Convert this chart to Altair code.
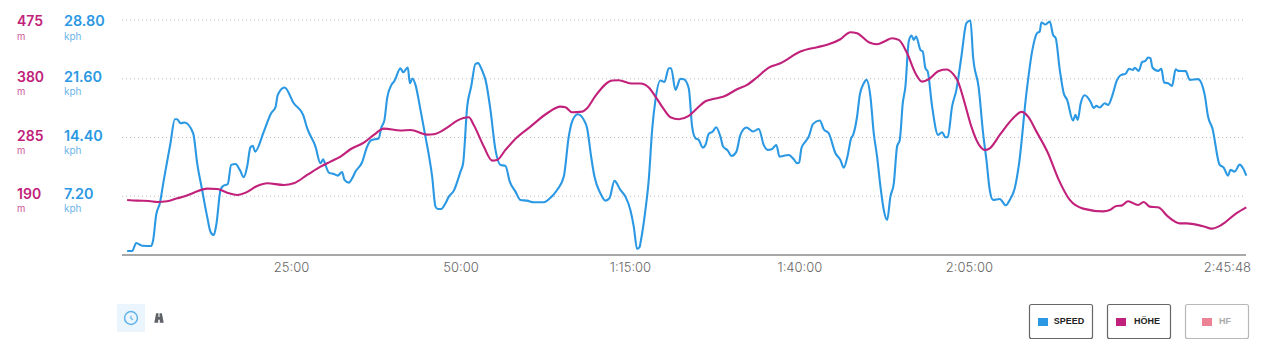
import altair as alt
import pandas as pd

speed_t = [0.76,1.50,2.09,2.97,4.30,4.60,5.04,5.58,6.17,7.15,7.79,8.14,8.63,9.22,10.50,11.09,11.82,12.56,13.05,13.54,13.94,14.53,14.92,15.61,16.10,16.74,17.38,17.97,18.46,18.95,19.30,19.64,20.92,22.00,22.64,22.98,23.97,25.34,26.72,27.31,28.54,29.28,
29.67,30.01,30.51,31.24,31.83,32.47,32.82,33.46,33.95,34.44,35.42,36.16,36.75,37.88,38.22,38.72,39.11,39.75,40.19,41.08,41.47,42.16,42.46,42.85,43.29,44.03,44.76,45.26,45.75,46.24,46.59,47.08,47.72,48.21,48.95,49.93,50.32,50.92,51.51,52.14,52.53,52.98,53.37,53.62,54.35,55.09,55.83,56.56,57.20,58.04,58.77,59.76,60.74,62.22,62.96,64.18,65.17,65.90,66.39,67.23,68.12,68.61,69.20,69.69,70.57,71.31,71.90,72.64,73.52,74.26,74.99,75.49,75.98,76.37,
76.47,77.21,77.70,78.20,78.69,79.42,80.02,80.65,81.00,81.64,82.37,82.87,83.60,84.10,84.59,85.08,85.67,86.06,86.55,87.14,87.64,88.27,88.67,89.36,89.90,90.63,91.22,92.11,93.10,93.93,94.66,95.25,95.90,96.53,96.98,97.52,98.35,99.09,99.58,99.88,100.22,100.81,101.30,101.94,102.93,103.51,104.25,105.24,105.97,106.47,107.06,107.55,107.85,108.43,108.83,109.42,109.81,110.40,110.89,111.38,111.88,112.37,112.86,113.35,113.85,114.33,114.73,115.17,115.56,116.05,116.45,116.79,117.14,117.77,118.12,118.51,118.85,119.50,120.38,120.97,121.46,121.80,
122.44,123.08,123.82,124.56,125.15,125.54,126.38,127.02,127.51,128.00,128.49,129.48,130.36,130.95,131.69,132.33,133.41,134.29,134.98,135.37,135.62,136.21,136.85,137.34,137.73,138.33,138.91,139.41,140.29,140.63,140.98,141.42,142.01,142.85,143.34,143.73,144.22,144.96,145.45,146.19,146.68,147.42,148.01,148.55,149.14,149.39,149.98,150.47,150.96,151.35,151.70,152.00,152.83,153.32,153.71,154.30,154.89,155.43,155.78,156.91,157.50,158.73,159.71,160.20,160.84,161.92,162.51,163.15,163.50,164.13,164.87,165.36,165.85]
speed_v = [0.49,0.49,1.47,1.14,1.10,1.84,4.91,6.34,9.20,13.70,16.64,16.64,16.15,16.23,14.92,11.24,7.97,4.70,2.86,2.45,3.88,7.97,8.46,8.71,11.04,11.16,10.43,9.53,10.83,13.21,13.37,12.67,15.13,17.38,18.11,19.62,20.52,18.60,17.17,15.54,13.29,11.24,
11.73,11.04,10.10,9.93,9.73,10.18,9.20,8.87,9.40,10.22,11.37,13.29,14.06,14.31,15.54,16.56,19.22,20.85,21.34,22.89,22.40,22.98,21.05,21.63,20.85,17.78,14.51,12.26,9.61,5.93,5.64,5.64,6.34,7.15,7.89,10.22,11.24,18.19,20.65,23.43,23.51,22.89,22.08,21.46,17.78,12.88,11.04,10.92,8.99,7.77,6.75,6.66,6.46,6.46,6.83,7.97,9.61,14.51,16.35,17.25,16.56,15.54,12.06,9.61,7.56,6.66,6.95,9.08,7.97,7.15,5.52,3.48,0.74,1.02,
1.43,5.52,9.20,15.33,19.01,21.38,21.22,22.89,22.89,20.24,21.59,21.55,20.44,15.74,14.31,14.10,13.16,13.49,14.84,15.13,15.66,14.51,13.29,12.80,12.14,12.67,14.72,15.62,15.13,15.45,13.49,12.88,13.00,13.49,12.06,12.14,12.26,11.73,11.24,11.32,13.08,13.90,14.51,16.07,16.48,15.41,14.92,12.47,11.65,10.71,12.26,14.31,14.72,16.97,19.62,21.05,21.46,19.42,14.92,12.06,8.38,5.52,4.29,7.15,8.79,13.29,14.10,18.60,20.65,26.17,26.90,26.37,26.78,25.14,24.94,22.89,22.49,18.19,14.72,15.05,14.43,14.43,
18.19,20.24,24.33,28.41,28.74,24.33,20.44,14.92,11.65,7.97,6.75,6.87,6.09,6.75,8.18,11.24,19.83,25.14,27.19,27.39,28.50,28.25,28.62,26.98,26.57,22.69,19.83,19.01,16.48,17.17,16.56,18.60,19.58,18.81,18.03,18.27,18.07,18.60,18.40,19.83,21.26,22.08,22.20,22.81,22.69,22.94,22.57,23.63,23.79,24.20,24.12,22.98,22.57,22.81,21.14,21.05,20.73,22.77,22.57,22.53,21.46,21.55,19.62,16.97,15.54,11.04,10.71,9.73,10.43,10.22,11.08,10.63,9.73]

elev_t = [0.76,2.24,3.96,5.19,6.66,8.14,9.12,10.60,12.56,14.04,15.51,16.99,18.22,19.94,21.41,23.87,25.34,27.31,29.28,
30.75,32.23,33.70,35.67,37.14,38.62,41.08,42.55,45.01,46.00,47.96,49.44,51.16,51.89,53.37,54.60,55.33,56.56,58.28,60.25,62.71,64.67,65.41,66.39,67.87,68.61,69.84,72.30,73.28,75.25,76.47,
77.70,78.69,79.92,80.90,82.13,83.60,84.84,86.06,87.04,88.77,90.73,92.21,93.68,95.40,97.12,100.07,102.53,104.01,105.97,107.45,108.43,110.15,111.38,112.61,113.59,114.58,115.81,117.04,118.03,119.00,120.48,
121.61,122.59,123.32,124.31,125.29,126.28,127.26,128.00,129.48,131.44,132.67,133.66,134.89,136.60,138.08,139.81,141.77,144.72,145.71,146.68,147.42,148.40,149.88,150.71,151.60,152.83,154.30,156.02,157.00,159.71,160.69,162.16,164.37,165.85]
elev_m = [184.0,182.9,182.4,180.8,181.8,186.7,189.4,195.8,202.3,201.8,195.8,192.1,195.8,206.6,211.0,208.3,211.0,224.4,237.9,
246.0,254.1,266.0,276.7,289.1,299.4,296.2,297.2,289.7,290.2,301.0,312.3,317.7,305.3,270.3,247.6,248.7,264.9,285.4,302.6,324.2,335.0,333.9,325.8,326.9,332.3,352.3,377.1,377.6,372.2,372.2,
365.7,351.2,330.7,317.7,314.5,319.9,332.3,343.6,346.9,351.2,363.0,370.0,382.4,398.1,405.1,424.0,431.0,434.8,443.9,455.3,453.6,439.1,435.8,441.2,445.6,442.8,421.3,388.9,375.4,379.2,392.7,
394.9,387.8,375.4,340.4,302.6,275.7,264.9,267.6,289.1,316.1,326.4,318.8,294.5,259.5,219.0,184.0,170.0,165.6,167.8,174.3,174.8,181.8,175.9,180.8,173.2,172.1,157.0,146.2,146.2,140.8,137.6,143.5,162.4,172.1]

speed_ticks = [28.8, 21.6, 14.4, 7.2]
speed_labels = ["28.80", "21.60", "14.40", "7.20"]
elev_labels = ["475", "380", "285", "190"]
time_ticks = [25, 50, 75, 100, 125]
time_labels = ["25:00", "50:00", "1:15:00", "1:40:00", "2:05:00"]
t_end = 165.8
end_label = "2:45:48"
legend_names = ["SPEED", "HÖHE", "HF"]

BLUE = "#2b98e3"
MAG = "#c1217a"
FONT = "Inter"

xs = alt.Scale(domain=[0, t_end], nice=False, zero=False)
ys = alt.Scale(domain=[0, 28.8], nice=False)
es = alt.Scale(domain=[95, 475], nice=False)
one = pd.DataFrame({"a": [0]})

grid = alt.Chart(pd.DataFrame({"s": speed_ticks})).mark_rule(
    color="#bdbdbd", strokeWidth=1, strokeDash=[1, 3]).encode(
    y=alt.Y("s:Q", scale=ys, axis=None), x=alt.value(0), x2=alt.value(1124))
baseline = alt.Chart(pd.DataFrame({"s": [0]})).mark_rule(
    color="#a8a8a8", strokeWidth=2).encode(
    y=alt.Y("s:Q", scale=ys, axis=None), x=alt.value(0), x2=alt.value(1124))

speed = alt.Chart(pd.DataFrame({"t": speed_t, "v": speed_v})).mark_line(
    color=BLUE, strokeWidth=2.1, interpolate="monotone", strokeJoin="round").encode(
    x=alt.X("t:Q", scale=xs, axis=None),
    y=alt.Y("v:Q", scale=ys, axis=None),
)
elev = alt.Chart(pd.DataFrame({"t": elev_t, "e": elev_m})).mark_line(
    color=MAG, strokeWidth=2.1, interpolate="monotone", strokeJoin="round").encode(
    x=alt.X("t:Q", scale=xs, axis=None),
    y=alt.Y("e:Q", scale=es, axis=None),
)

def ylabels(col, vals, xpx, color, size, weight, dy0, dy):
    df = pd.DataFrame({"s": speed_ticks, col: vals})
    top = alt.Chart(df[df.s == 28.8]).mark_text(align="left", baseline="middle", font=FONT, fontSize=size,
                                                 fontWeight=weight, color=color, dy=dy0)
    rest = alt.Chart(df[df.s != 28.8]).mark_text(align="left", baseline="middle", font=FONT, fontSize=size,
                                                  fontWeight=weight, color=color, dy=dy)
    enc = dict(x=alt.value(xpx), y=alt.Y("s:Q", scale=ys, axis=None), text=f"{col}:N")
    return [top.encode(**enc), rest.encode(**enc)]

labels = []
labels += ylabels("elev", elev_labels, -105, MAG, 14, 600, 2, -1)
labels += ylabels("spd", speed_labels, -58, BLUE, 14.4, 600, 2, -1)
labels += ylabels("mu", ["m"] * 4, -105, "#d2589a", 9.5, 400, 17, 13)
labels += ylabels("ku", ["kph"] * 4, -58, "#6db5ea", 10, 400, 17, 13)

xlab = alt.Chart(pd.DataFrame({"t": time_ticks, "l": time_labels})).mark_text(
    font=FONT, fontSize=13, fontWeight=300, color="#666666", baseline="middle").encode(
    x=alt.X("t:Q", scale=xs, axis=None), y=alt.value(248), text="l:N")
xend = alt.Chart(pd.DataFrame({"t": [t_end], "l": [end_label]})).mark_text(
    font=FONT, fontSize=13, fontWeight=300, color="#666666", baseline="middle", align="right", dx=5).encode(
    x=alt.X("t:Q", scale=xs, axis=None), y=alt.value(248), text="l:N")

def box(x0, x1, y0, y1, **kw):
    return alt.Chart(one).mark_rect(**kw).encode(
        x=alt.value(x0 - 122), x2=alt.value(x1 - 122), y=alt.value(y0 - 20), y2=alt.value(y1 - 20))

def label(x, y, txt, **kw):
    return alt.Chart(pd.DataFrame({"l": [txt]})).mark_text(baseline="middle", **kw).encode(
        x=alt.value(x - 122), y=alt.value(y - 20), text="l:N")

legend = []
for name, x0, col, stroke, tcol, tx, sw in [
    (legend_names[0], 1029.5, BLUE, "#666666", "#222222", 1069, 1038),
    (legend_names[1], 1107.5, MAG, "#666666", "#222222", 1147, 1116),
    (legend_names[2], 1185.5, "#ec8294", "#b8b8b8", "#aaaaaa", 1225, 1202),
]:
    legend.append(box(x0, x0 + 63, 304.5, 338.5, fill="white", stroke=stroke, strokeWidth=1.2, cornerRadius=2))
    legend.append(box(sw, sw + 10, 318, 326, fill=col))
    legend.append(label(tx, 321, name, font="Liberation Sans", fontSize=9, fontWeight="bold", color=tcol))

clock_bg = box(117, 145, 304, 332, fill="#eaf5fd")
clock = alt.Chart(one).mark_point(shape="circle", size=165, filled=False, color=BLUE, strokeWidth=1.5).encode(
    x=alt.value(131 - 122), y=alt.value(318 - 20))
hands = alt.Chart(one).mark_point(shape="M0,-0.6 L0,0.1 L0.5,0.45", size=60, filled=False, color=BLUE, strokeWidth=1.2).encode(
    x=alt.value(131 - 122), y=alt.value(318 - 20))
road = alt.Chart(one).mark_point(
    shape="M-0.9,0.9 L-0.55,-0.9 L-0.1,-0.9 L-0.1,-0.2 L0.1,-0.2 L0.1,-0.9 L0.55,-0.9 L0.9,0.9 L0.15,0.9 L0.15,0.35 L-0.15,0.35 L-0.15,0.9 Z",
    size=110, filled=True, color="#5f6368", opacity=1).encode(x=alt.value(159 - 122), y=alt.value(318 - 20))

chart = alt.layer(
    grid, baseline, speed, elev, *labels, xlab, xend, clock_bg, clock, hands, road, *legend
).resolve_scale(y="independent").properties(
    width=1124, height=235, autosize="none",
    padding={"left": 114, "top": 12, "right": 12, "bottom": 88},
).configure_view(stroke=None)

chart.save("out.html", embed_options={"renderer": "svg", "actions": False})
